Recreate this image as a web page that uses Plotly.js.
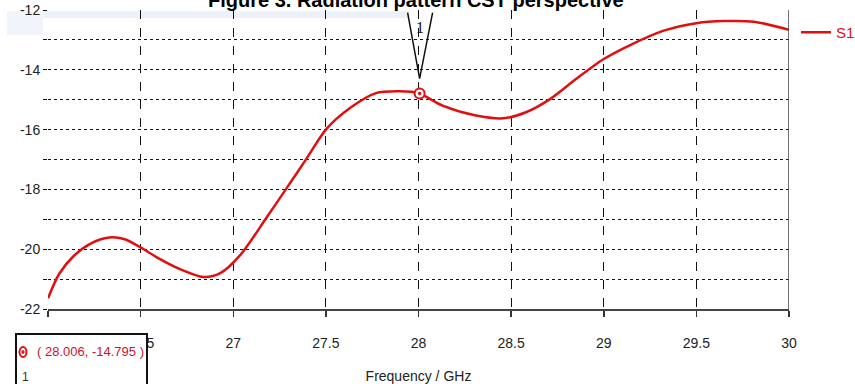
<!DOCTYPE html>
<html>
<head>
<meta charset="utf-8">
<script src="https://cdn.plot.ly/plotly-3.0.1.min.js"></script>
<style>
  html, body { margin: 0; padding: 0; background: #ffffff; }
  #chart { width: 855px; height: 384px; }
</style>
</head>
<body>
<div id="chart"></div>
<script>
// ---- data ----
const freqGHz = [26.0, 26.06, 26.14, 26.23, 26.33, 26.41, 26.5, 26.59, 26.71, 26.84, 26.93, 27.04,
                 27.18, 27.29, 27.4, 27.5, 27.63, 27.77, 27.9, 28.0, 28.13, 28.31, 28.46, 28.58,
                 28.71, 28.85, 29.0, 29.14, 29.32, 29.5, 29.65, 29.81, 30.0];
const s11dB   = [-21.64, -20.83, -20.22, -19.81, -19.61, -19.66, -19.94, -20.28, -20.66, -20.93, -20.8, -20.18,
                 -18.94, -17.94, -16.93, -16.0, -15.28, -14.78, -14.72, -14.78, -15.2, -15.53, -15.62, -15.42,
                 -14.98, -14.31, -13.64, -13.18, -12.7, -12.44, -12.37, -12.39, -12.66];
const seriesName = "S1,1";
const markerX = [28.006];
const markerY = [-14.795];
const markerLabel = "1";
const xTickVals = [26, 26.5, 27, 27.5, 28, 28.5, 29, 29.5, 30];
const xTickText = ["26", "26.5", "27", "27.5", "28", "28.5", "29", "29.5", "30"];
const yTickVals = [-22, -20, -18, -16, -14, -12];
const yTickText = ["-22", "-20", "-18", "-16", "-14", "-12"];
const chartTitle = "Figure 3. Radiation pattern CST perspective";
const xTitle = "Frequency / GHz";

const RED = "#e01010";
const SANS = "'Liberation Sans', Arial, sans-serif";

const traces = [
  {
    x: freqGHz, y: s11dB, type: "scatter", mode: "lines", name: seriesName,
    line: { color: RED, width: 2.5, shape: "spline", smoothing: 0.8 },
    hoverinfo: "x+y"
  },
  {
    x: markerX, y: markerY, type: "scatter", mode: "markers", showlegend: false,
    marker: { symbol: "circle", size: 10, color: "#ffffff", line: { color: RED, width: 2 } },
    hoverinfo: "skip"
  },
  {
    x: markerX, y: markerY, type: "scatter", mode: "markers", showlegend: false,
    marker: { symbol: "circle", size: 3.5, color: RED },
    hoverinfo: "skip"
  }
];

// plot box in pixels: left 48, right 789, top 10, bottom 309
const W = 741, H = 299;
const px = v => (v - 48) / W;          // page x -> paper x
const py = v => (309 - v) / H;         // page y -> paper y

const readout = "( " + markerX[0].toFixed(3) + ", " + markerY[0].toFixed(3) + " )";

const layout = {
  width: 855, height: 384,
  margin: { l: 48, r: 66, t: 10, b: 75, pad: 0, autoexpand: false },
  paper_bgcolor: "#ffffff", plot_bgcolor: "#ffffff",
  font: { family: SANS, size: 14, color: "#222222" },
  showlegend: true,
  legend: {
    x: px(796), xanchor: "left", y: py(16), yanchor: "top",
    bgcolor: "rgba(0,0,0,0)", borderwidth: 0,
    font: { family: SANS, size: 15, color: RED },
    itemwidth: 30
  },
  xaxis: {
    range: [26, 30], tickmode: "array", tickvals: xTickVals, ticktext: xTickText,
    showline: true, linecolor: "#444444", linewidth: 2,
    ticks: "outside", ticklen: 6, tickwidth: 1.5, tickcolor: "#333333",
    ticklabelstandoff: 14,
    showgrid: true, gridcolor: "#111111", gridwidth: 1.2, griddash: "dash",
    zeroline: false, fixedrange: true,
    tickfont: { family: SANS, size: 14, color: "#222222" },
    title: { text: xTitle, font: { family: SANS, size: 14, color: "#222222" }, standoff: 21 }
  },
  yaxis: {
    range: [-22, -12], tickmode: "array", tickvals: yTickVals, ticktext: yTickText,
    showline: false, ticks: "outside", ticklen: 4, tickwidth: 1, tickcolor: "#111111",
    showgrid: true, gridcolor: "#111111", gridwidth: 1, griddash: "dot",
    minor: { dtick: 1, showgrid: true, gridcolor: "#111111", gridwidth: 1, griddash: "dot",
             ticks: "outside", ticklen: 4, tickcolor: "#111111" },
    zeroline: false, fixedrange: true,
    tickfont: { family: SANS, size: 14, color: "#222222" }
  },
  shapes: [
    // faint blue band at top of the screenshot
    { type: "rect", xref: "paper", yref: "paper", x0: px(7), x1: px(410), y0: py(18), y1: py(11),
      fillcolor: "#edf2fa", line: { width: 0 }, layer: "below" },
    { type: "rect", xref: "paper", yref: "paper", x0: px(7), x1: px(43), y0: py(35), y1: py(11),
      fillcolor: "#f1f5fb", line: { width: 0 }, layer: "below" },
    // right frame line at x = 30
    { type: "line", xref: "x", yref: "paper", x0: 30, x1: 30, y0: 0, y1: 1,
      line: { color: "#444444", width: 1.5 } },
    // V-shaped marker flag above the marker point
    { type: "path", xref: "x", yref: "y", xsizemode: "pixel", ysizemode: "pixel",
      xanchor: markerX[0], yanchor: markerY[0],
      path: "M -12,81 L 0,15 L 13,81",
      line: { color: "#111111", width: 1.5 } },
    // readout box bottom-left
    { type: "rect", xref: "paper", yref: "paper", x0: px(16), x1: px(147), y0: py(400), y1: py(334),
      fillcolor: "#ffffff", line: { color: "#111111", width: 2 }, layer: "above" },
    // readout marker icon
    { type: "circle", xref: "paper", yref: "paper", xsizemode: "pixel", ysizemode: "pixel",
      xanchor: px(23), yanchor: py(352), x0: -3.5, x1: 3.5, y0: -5, y1: 5,
      fillcolor: "#ffffff", line: { color: RED, width: 2 }, layer: "above" },
    { type: "circle", xref: "paper", yref: "paper", xsizemode: "pixel", ysizemode: "pixel",
      xanchor: px(23), yanchor: py(352), x0: -1.3, x1: 1.3, y0: -1.6, y1: 1.6,
      fillcolor: RED, line: { color: RED, width: 0.5 }, layer: "above" }
  ],
  annotations: [
    // figure caption, cropped at the top edge as in the reference screenshot
    { text: "<b>" + chartTitle + "</b>", xref: "paper", yref: "paper", x: px(416), y: py(13),
      xanchor: "center", yanchor: "bottom", showarrow: false,
      font: { family: SANS, size: 20, color: "#000000" } },
    { text: markerLabel, xref: "x", yref: "paper", x: markerX[0], y: py(28), showarrow: false,
      font: { family: "'Liberation Serif', 'DejaVu Serif', serif", size: 16, color: "#111111" },
      xanchor: "center", yanchor: "middle" },
    { text: readout, xref: "paper", yref: "paper", x: px(90), y: py(352), showarrow: false,
      font: { family: SANS, size: 13, color: "#d01030" }, xanchor: "center", yanchor: "middle" },
    { text: markerLabel, xref: "paper", yref: "paper", x: px(25), y: py(377), showarrow: false,
      font: { family: SANS, size: 12, color: "#333333" }, xanchor: "center", yanchor: "middle" }
  ]
};

Plotly.newPlot("chart", traces, layout, { staticPlot: true, displayModeBar: false });
</script>
</body>
</html>
